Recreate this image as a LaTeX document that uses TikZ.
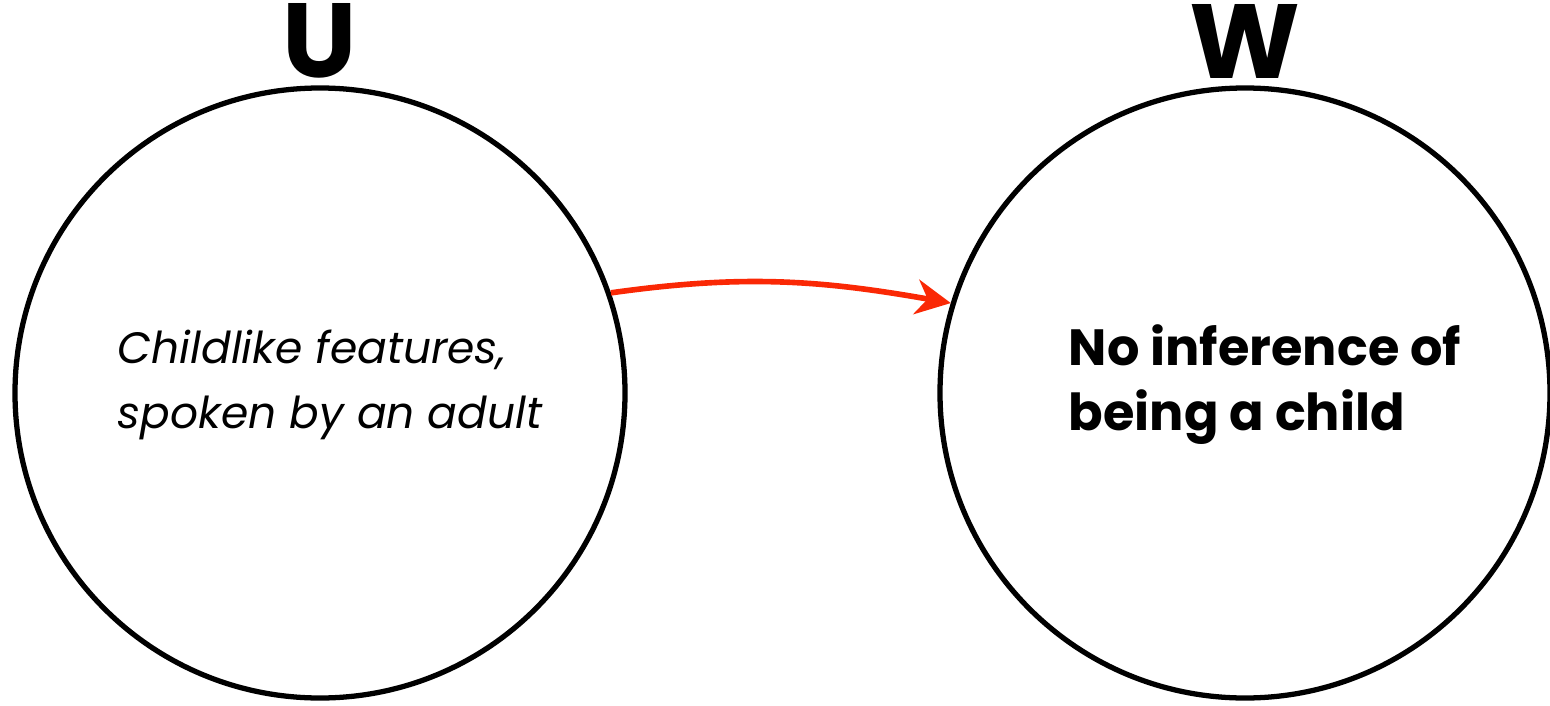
\documentclass[tikz,border=0pt]{standalone}
\usepackage{fontspec}
\setmainfont{Poppins}
\usepackage{tikz}
\usetikzlibrary{positioning, arrows.meta}

\definecolor{arrowred}{RGB}{250,40,5}

\begin{document}
\begin{tikzpicture}[
   circ/.style={draw, circle, line width=3pt, minimum size=12.2cm, inner sep=0pt},
   head/.style={font=\fontsize{60}{60}\selectfont\bfseries, inner sep=0pt},
   utext/.style={font=\fontsize{25}{37}\selectfont\itshape, align=left},
   wtext/.style={font=\fontsize{29}{37}\selectfont\bfseries, align=left},
   arr/.style={-{Stealth[length=7mm, width=7mm, inset=2.3mm]}, line width=3.2pt, draw=arrowred},
  ]
  \useasboundingbox (0,0) rectangle (31,14.1);
  \node[circ] (uc) at (6.4,6.24) {};
  \node[circ] (wc) at (24.9,6.24) {};

  \node[head, above=1.3mm of uc] (ulab) {U};
  \node[head, above=1.3mm of wc] (wlab) {W};

  \node[utext] (ut) at (6.6,6.4) {Childlike features,\\spoken by an adult};
  \node[wtext] (wt) at (25.3,6.4) {No inference of\\being a child};

  \draw[arr] (uc.19) to[out=8, in=170] (wc.163);
 \end{tikzpicture}
\end{document}
